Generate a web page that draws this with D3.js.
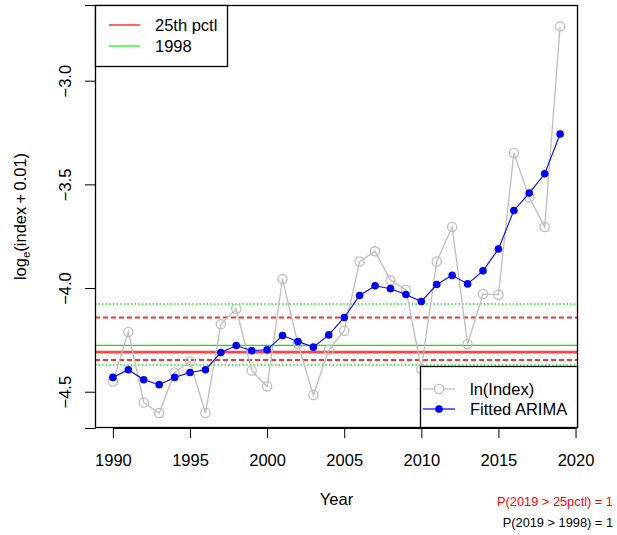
<!DOCTYPE html>
<html><head><meta charset="utf-8">
<script src="https://cdn.jsdelivr.net/npm/d3@7/dist/d3.min.js"></script>
<style>body{margin:0;background:#fff}svg{display:block}text{font-family:"Liberation Sans",Arial,sans-serif}</style>
</head><body><svg id="c" width="617" height="535"></svg>
<script>
const years = [1990,1991,1992,1993,1994,1995,1996,1997,1998,1999,2000,2001,2002,2003,2004,2005,2006,2007,2008,2009,2010,2011,2012,2013,2014,2015,2016,2017,2018,2019];
const lnIndex = [-4.451,-4.212,-4.552,-4.603,-4.407,-4.354,-4.603,-4.175,-4.100,-4.398,-4.475,-3.957,-4.269,-4.516,-4.298,-4.206,-3.872,-3.823,-3.963,-4.008,-4.391,-3.872,-3.706,-4.270,-4.029,-4.032,-3.349,-3.563,-3.706,-2.738];
const fitted = [-4.431,-4.394,-4.442,-4.466,-4.431,-4.407,-4.394,-4.311,-4.277,-4.302,-4.298,-4.229,-4.258,-4.285,-4.226,-4.142,-4.036,-3.989,-4.003,-4.031,-4.065,-3.983,-3.939,-3.980,-3.917,-3.812,-3.626,-3.542,-3.449,-3.257];
const pctl25 = -4.309, pctl25Lo = -4.347, pctl25Hi = -4.142;
const ref1998 = -4.277, ref1998Lo = -4.371, ref1998Hi = -4.077;
const xTicks = [1990,1995,2000,2005,2010,2015,2020];
const yTicks = [-4.5,-4.0,-3.5,-3.0];
const legendTop = ["25th pctl","1998"];
const legendBottom = ["ln(Index)","Fitted ARIMA"];
const probTexts = ["P(2019 > 25pctl) = 1","P(2019 > 1998) = 1"];

const svg = d3.select("#c");
const L=95,R=578,T=5,B=428;
const x = d3.scaleLinear().domain([1988.84,2020.16]).range([L,R]);
const y = d3.scaleLinear().domain([-4.675,-2.635]).range([B,T]);
const FS = 16.5;

// reference lines
const hl = [
  {v:ref1998Hi, c:"#00ee00", w:1.4, d:"1.4,2.2"},
  {v:ref1998Lo, c:"#00ee00", w:1.4, d:"1.4,2.2"},
  {v:pctl25Hi, c:"#ff3030", w:1.8, d:"5,3"},
  {v:pctl25Lo, c:"#ff3030", w:1.8, d:"5,3"},
  {v:ref1998, c:"#00ee00", w:1.3, d:null},
  {v:pctl25, c:"#ff4444", w:2.6, d:null}
];
svg.selectAll("line.h").data(hl).join("line").attr("class","h")
  .attr("x1",L).attr("x2",R).attr("y1",d=>y(d.v)).attr("y2",d=>y(d.v))
  .attr("stroke",d=>d.c).attr("stroke-width",d=>d.w)
  .attr("stroke-dasharray",d=>d.d);

const lnData = years.map((yr,i)=>[yr,lnIndex[i]]);
const fData = years.map((yr,i)=>[yr,fitted[i]]);
const line = d3.line().x(d=>x(d[0])).y(d=>y(d[1]));
svg.append("path").attr("d",line(lnData)).attr("fill","none").attr("stroke","#bebebe").attr("stroke-width",1.3);
svg.selectAll("circle.ln").data(lnData).join("circle").attr("class","ln")
  .attr("cx",d=>x(d[0])).attr("cy",d=>y(d[1])).attr("r",4.6)
  .attr("fill","none").attr("stroke","#bebebe").attr("stroke-width",1.3);
svg.append("path").attr("d",line(fData)).attr("fill","none").attr("stroke","#0000ff").attr("stroke-width",1.1);
svg.selectAll("circle.f").data(fData).join("circle").attr("class","f")
  .attr("cx",d=>x(d[0])).attr("cy",d=>y(d[1])).attr("r",3.8).attr("fill","#0000ff");

// axes
const xa = svg.append("g").attr("transform",`translate(0,${B})`)
  .call(d3.axisBottom(x).tickValues(xTicks).tickFormat(d3.format("d")).tickSize(10).tickPadding(0));
xa.select(".domain").attr("d",`M${x(1990)},0.5H${x(2020)}`);
xa.selectAll("text").attr("font-size",FS).attr("font-family","Liberation Sans").attr("fill","#000").attr("dy",null).attr("y",38);
xa.selectAll("line").attr("stroke","#000");
const ya = svg.append("g").attr("transform",`translate(${L},0)`)
  .call(d3.axisLeft(y).tickValues(yTicks).tickFormat(d=>d3.format(".1f")(d).replace("-","\u2212")).tickSize(10));
ya.selectAll(".tick text").attr("font-size",FS).attr("font-family","Liberation Sans").attr("fill","#000")
  .attr("x",null).attr("dy",null).attr("text-anchor","middle")
  .attr("transform","translate(-24.5,0) rotate(-90)");
ya.selectAll("line").attr("stroke","#000");

// box
svg.append("rect").attr("x",L+0.5).attr("y",T+0.5).attr("width",R-L-1).attr("height",B-T-1)
  .attr("fill","none").attr("stroke","#000").attr("stroke-width",1.3);

// titles
svg.append("text").attr("x",(L+R)/2).attr("y",505).attr("text-anchor","middle").attr("font-size",FS).text("Year");
const yl = svg.append("text").attr("transform",`translate(26,${(T+B)/2}) rotate(-90)`).attr("text-anchor","middle").attr("font-size",FS);
yl.append("tspan").text("log");
yl.append("tspan").attr("font-size",11.5).attr("dy",4).text("e");
yl.append("tspan").attr("dy",-4).text("(index\u2009+\u20090.01)");

// top legend
const lg1 = svg.append("g");
lg1.append("rect").attr("x",L+0.5).attr("y",T+0.5).attr("width",132).attr("height",61).attr("fill","#fff").attr("stroke","#000").attr("stroke-width",1.3);
const lgc = ["#ff0000","#00ff00"];
legendTop.forEach((t,i)=>{
  const yy = 25 + i*21;
  lg1.append("line").attr("x1",109).attr("x2",140).attr("y1",yy).attr("y2",yy).attr("stroke",lgc[i]).attr("stroke-width",1.2);
  lg1.append("text").attr("x",155).attr("y",yy+6).attr("font-size",FS).text(t);
});

// bottom legend
const lg2 = svg.append("g");
lg2.append("rect").attr("x",420.5).attr("y",366.5).attr("width",R-421).attr("height",B-367).attr("fill","#fff").attr("stroke","#000").attr("stroke-width",1.3);
legendBottom.forEach((t,i)=>{
  const yy = 389 + i*20;
  const col = i===0?"#bebebe":"#0000ff";
  lg2.append("line").attr("x1",423).attr("x2",455).attr("y1",yy).attr("y2",yy).attr("stroke",col).attr("stroke-width",1.2);
  if(i===0) lg2.append("circle").attr("cx",439).attr("cy",yy).attr("r",4.6).attr("fill","#fff").attr("stroke",col).attr("stroke-width",1.3);
  else lg2.append("circle").attr("cx",439).attr("cy",yy).attr("r",3.8).attr("fill",col);
  lg2.append("text").attr("x",470).attr("y",yy+6).attr("font-size",FS).text(t);
});

// probability texts
svg.append("text").attr("x",613).attr("y",506).attr("text-anchor","end").attr("font-size",12.8).attr("fill","#ff0000").text(probTexts[0]);
svg.append("text").attr("x",613).attr("y",527).attr("text-anchor","end").attr("font-size",12.8).attr("fill","#000").text(probTexts[1]);
</script></body></html>
